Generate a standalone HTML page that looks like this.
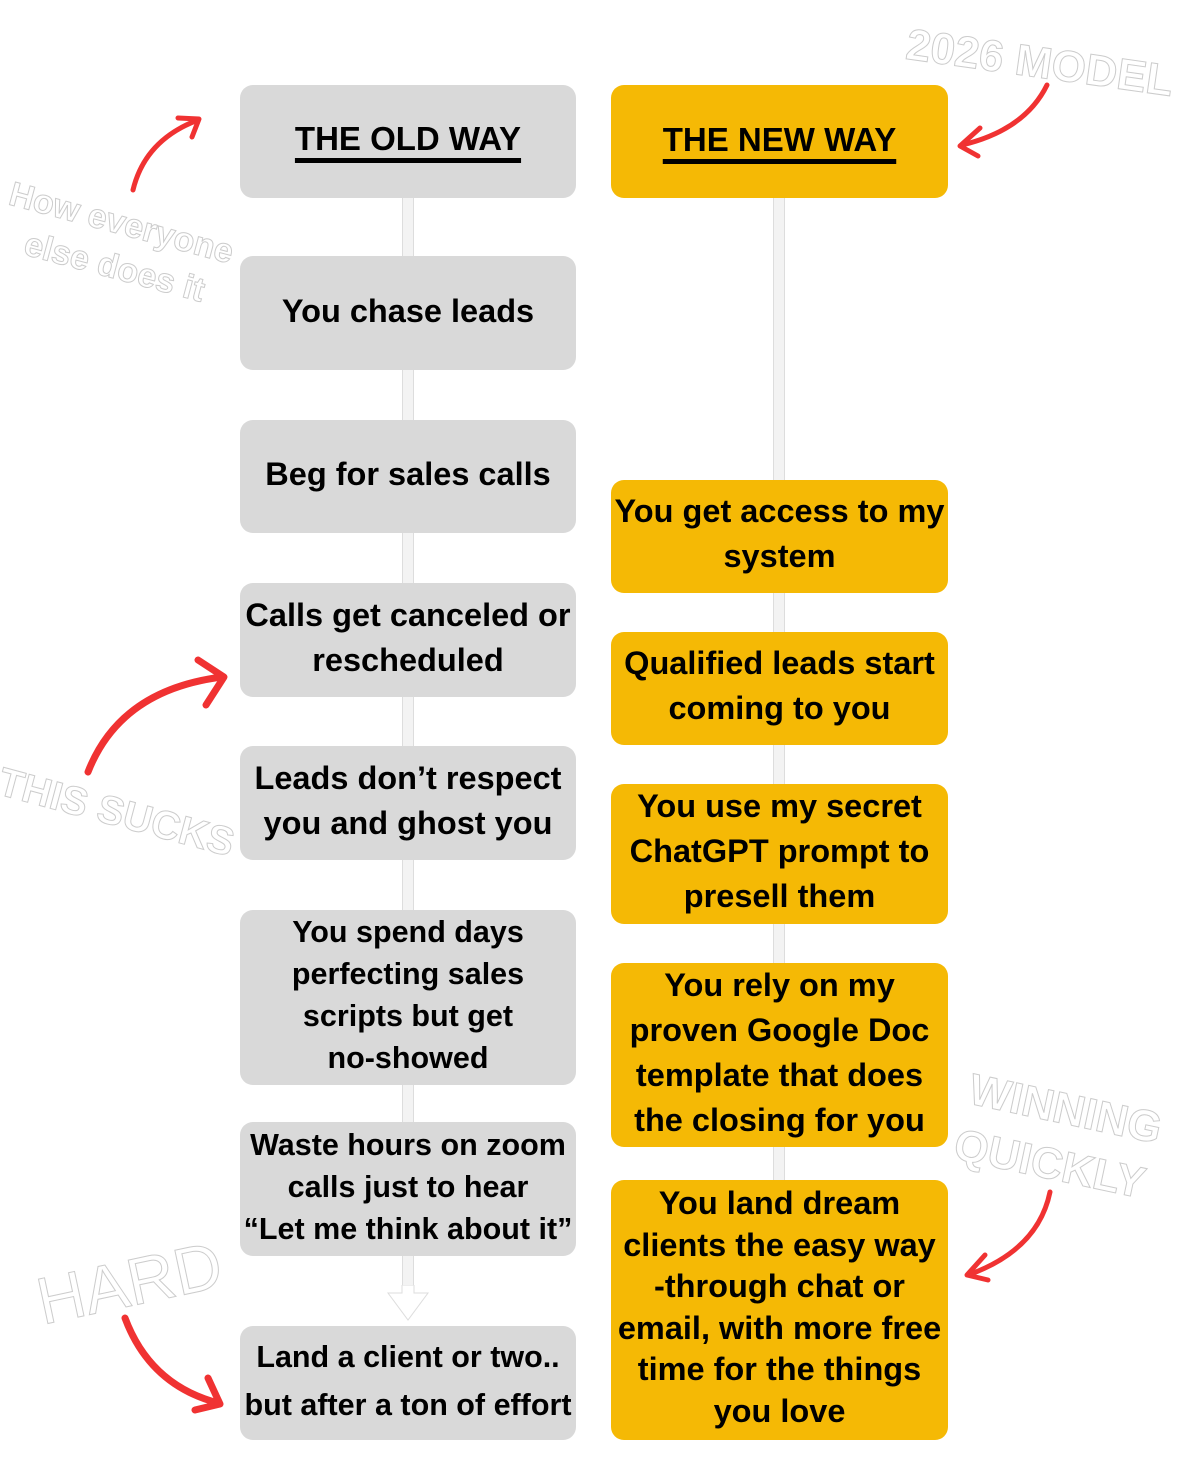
<!DOCTYPE html>
<html><head><meta charset="utf-8"><style>
body{margin:0;width:1200px;height:1466px;background:#fff;position:relative;overflow:hidden;font-family:"Liberation Sans",Arial,sans-serif;}
.b{position:absolute;border-radius:13px;display:flex;align-items:center;justify-content:center;text-align:center;font-weight:bold;font-size:32.5px;color:#000;box-sizing:border-box;padding-bottom:5px;}
.g{background:#d9d9d9;left:240px;width:336px;line-height:42px;}
.y{background:#f5b905;left:611px;width:337px;line-height:45px;}
.s{font-size:30.5px;}
.line{position:absolute;width:12px;background:#f3f3f3;border-left:1px solid #ddd;border-right:1px solid #ddd;box-sizing:border-box;}
.ghost{position:absolute;color:#fff;-webkit-text-stroke:1px #ccc;font-weight:bold;white-space:nowrap;}
.h{text-decoration:underline;text-decoration-thickness:5px;text-underline-offset:8px;font-size:33px;}
</style></head><body>
<div class="line" style="left:402px;top:198px;height:1100px"></div>
<div class="line" style="left:773px;top:198px;height:1000px"></div>
<svg style="position:absolute;left:380px;top:1285px" width="60" height="45"><path d="M8 8 L22 8 L22 0 L34 0 L34 8 L48 8 L28 35 Z" fill="#fff" stroke="#ddd"/></svg>

<div class="b g" style="top:85px;height:113px"><span class="h">THE OLD WAY</span></div>
<div class="b g" style="top:256px;height:114px">You chase leads</div>
<div class="b g" style="top:420px;height:113px">Beg for sales calls</div>
<div class="b g" style="top:583px;height:114px;line-height:45px">Calls get canceled or<br>rescheduled</div>
<div class="b g" style="top:746px;height:114px;line-height:45px">Leads don’t respect<br>you and ghost you</div>
<div class="b g s" style="top:910px;height:175px">You spend days<br>perfecting sales<br>scripts but get<br>no-showed</div>
<div class="b g s" style="top:1122px;height:134px">Waste hours on zoom<br>calls just to hear<br>“Let me think about it”</div>
<div class="b g s" style="top:1326px;height:114px;line-height:48px">Land a client or two..<br>but after a ton of effort</div>

<div class="b y" style="top:85px;height:113px"><span class="h">THE NEW WAY</span></div>
<div class="b y" style="top:480px;height:113px">You get access to my<br>system</div>
<div class="b y" style="top:632px;height:113px">Qualified leads start<br>coming to you</div>
<div class="b y" style="top:784px;height:140px">You use my secret<br>ChatGPT prompt to<br>presell them</div>
<div class="b y" style="top:963px;height:184px">You rely on my<br>proven Google Doc<br>template that does<br>the closing for you</div>
<div class="b y" style="top:1180px;height:260px;line-height:41.5px">You land dream<br>clients the easy way<br>-through chat or<br>email, with more free<br>time for the things<br>you love</div>

<div class="ghost" style="left:15px;top:175px;font-size:34px;transform:rotate(15deg);transform-origin:left top">How everyone</div>
<div class="ghost" style="left:30px;top:225px;font-size:34px;transform:rotate(15deg);transform-origin:left top">else does it</div>
<div class="ghost" style="left:5px;top:760px;font-size:40px;transform:rotate(15deg);transform-origin:left top">THIS SUCKS</div>
<div class="ghost" style="left:30px;top:1265px;font-size:66px;font-weight:normal;transform:rotate(-12deg);transform-origin:left top">HARD</div>
<div class="ghost" style="left:910px;top:20px;font-size:44px;transform:rotate(8deg);transform-origin:left top">2026 MODEL</div>
<div class="ghost" style="left:975px;top:1065px;font-size:44px;transform:rotate(12deg);transform-origin:left top">WINNING</div>
<div class="ghost" style="left:960px;top:1120px;font-size:44px;transform:rotate(12deg);transform-origin:left top">QUICKLY</div>

<svg style="position:absolute;left:0;top:0" width="1200" height="1466" fill="none" stroke="#f03232" stroke-linecap="round" stroke-linejoin="round">
<g stroke-width="5">
<path d="M133 190 Q145 140 198 120"/><path d="M178 118 L199 119 L192 137"/>
<path d="M1047 85 Q1025 130 962 145"/><path d="M980 128 L960 146 L978 156"/>
<path d="M1050 1192 Q1038 1250 968 1275"/><path d="M985 1255 L967 1275 L988 1280"/>
</g>
<g stroke-width="7">
<path d="M88 772 Q120 690 222 677"/><path d="M198 660 L224 677 L206 705"/>
<path d="M125 1318 Q150 1385 218 1403"/><path d="M208 1378 L220 1404 L195 1410"/>
</g>
</svg>
</body></html>
